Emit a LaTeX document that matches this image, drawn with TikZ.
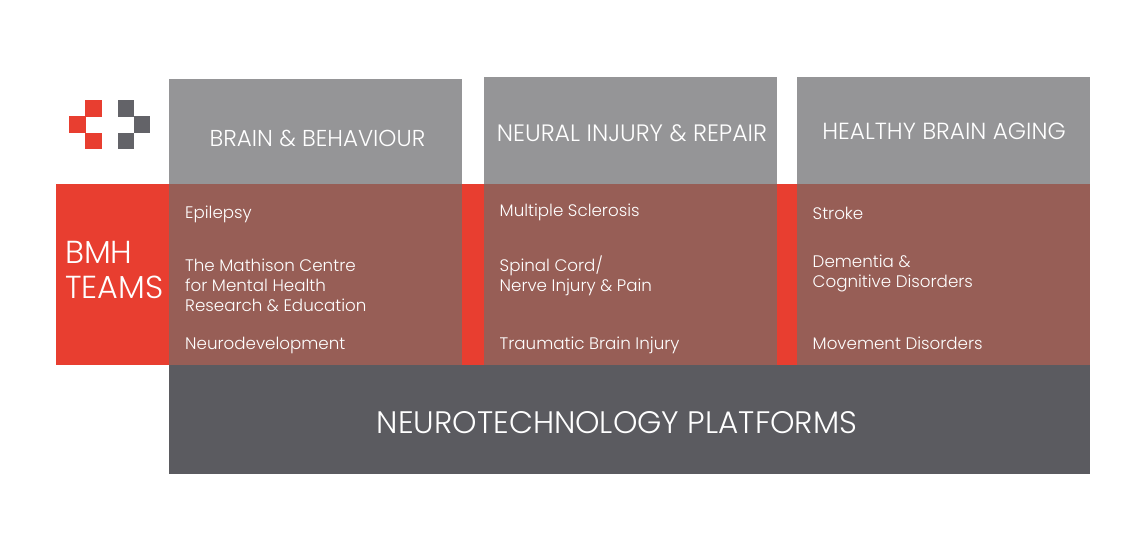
\documentclass[tikz,border=0pt]{standalone}
\usepackage{fontspec}
\setmainfont{Poppins Light}
\definecolor{bmhred}{HTML}{E83E30}
\definecolor{bmhgrey}{HTML}{959597}
\definecolor{bmhbrown}{HTML}{975E56}
\definecolor{bmhdark}{HTML}{5B5B60}
\definecolor{bmhlogo}{HTML}{636368}
\tikzset{
  block/.style={anchor=north west,inner sep=0pt,outer sep=0pt,minimum width=293pt},
  pix/.style={anchor=north west,inner sep=0pt,outer sep=0pt,minimum width=16.5pt,minimum height=16.5pt},
  head/.style={text=white,inner sep=0pt},
  item/.style={text=white,font=\fontsize{16.7}{20}\selectfont,inner sep=0pt,anchor=west,align=left},
}
\begin{document}
\begin{tikzpicture}[x=1pt,y=-1pt]
\useasboundingbox (0,0) rectangle (1140,541);
\node[anchor=north west,inner sep=0pt,fill=bmhred,minimum width=1034pt,minimum height=181pt] (band) at (56,184) {};
\node[block,fill=bmhgrey,minimum height=105pt] (g1) at (169,79) {};
\node[block,fill=bmhgrey,minimum height=107pt] (g2) at (484,77) {};
\node[block,fill=bmhgrey,minimum height=107pt] (g3) at (797,77) {};
\node[block,fill=bmhbrown,minimum height=181pt] (b1) at (169,184) {};
\node[block,fill=bmhbrown,minimum height=181pt] (b2) at (484,184) {};
\node[block,fill=bmhbrown,minimum height=181pt] (b3) at (797,184) {};
\node[block,fill=bmhdark,minimum width=921pt,minimum height=109pt] (plat) at (169,365) {};
\node[pix,fill=bmhred] (r1) at (85,100) {};
\node[pix,fill=bmhred] (r2) at (69,116) {};
\node[pix,fill=bmhred] (r3) at (85,132.5) {};
\node[pix,fill=bmhlogo] (d1) at (117.5,100) {};
\node[pix,fill=bmhlogo] (d2) at (133.7,116) {};
\node[pix,fill=bmhlogo] (d3) at (117.5,132.5) {};
\node[head,font=\fontsize{23}{28}\selectfont] (t1) at (317.5,138) {BRAIN \& BEHAVIOUR};
\node[head,font=\fontsize{23.7}{28}\selectfont] (t2) at (632,133.5) {NEURAL INJURY \& REPAIR};
\node[head,font=\fontsize{23.3}{28}\selectfont] (t3) at (944,131) {HEALTHY BRAIN AGING};
\node[text=white,font=\fontsize{31.8}{35}\selectfont,inner sep=0pt,anchor=west,align=left] (bmh) at (65,269.5) {BMH\\TEAMS};
\node[text=white,font=\fontsize{31.1}{36}\selectfont,inner sep=0pt] (pt) at (617,422.5) {NEUROTECHNOLOGY PLATFORMS};
\node[item] (a1) at (185,214) {Epilepsy};
\node[item] (a2) at (185,285) {The Mathison Centre\\for Mental Health\\Research \& Education};
\node[item] (a3) at (185,345) {Neurodevelopment};
\node[item] (b1t) at (499.5,212.5) {Multiple Sclerosis};
\node[item] (b2t) at (499.5,275.5) {Spinal Cord/\\Nerve Injury \& Pain};
\node[item] (b3t) at (499.5,345) {Traumatic Brain Injury};
\node[item] (c1) at (812.5,213.5) {Stroke};
\node[item] (c2) at (812.5,273.5) {Dementia \&\\Cognitive Disorders};
\node[item] (c3) at (812.5,343.5) {Movement Disorders};
\end{tikzpicture}
\end{document}
